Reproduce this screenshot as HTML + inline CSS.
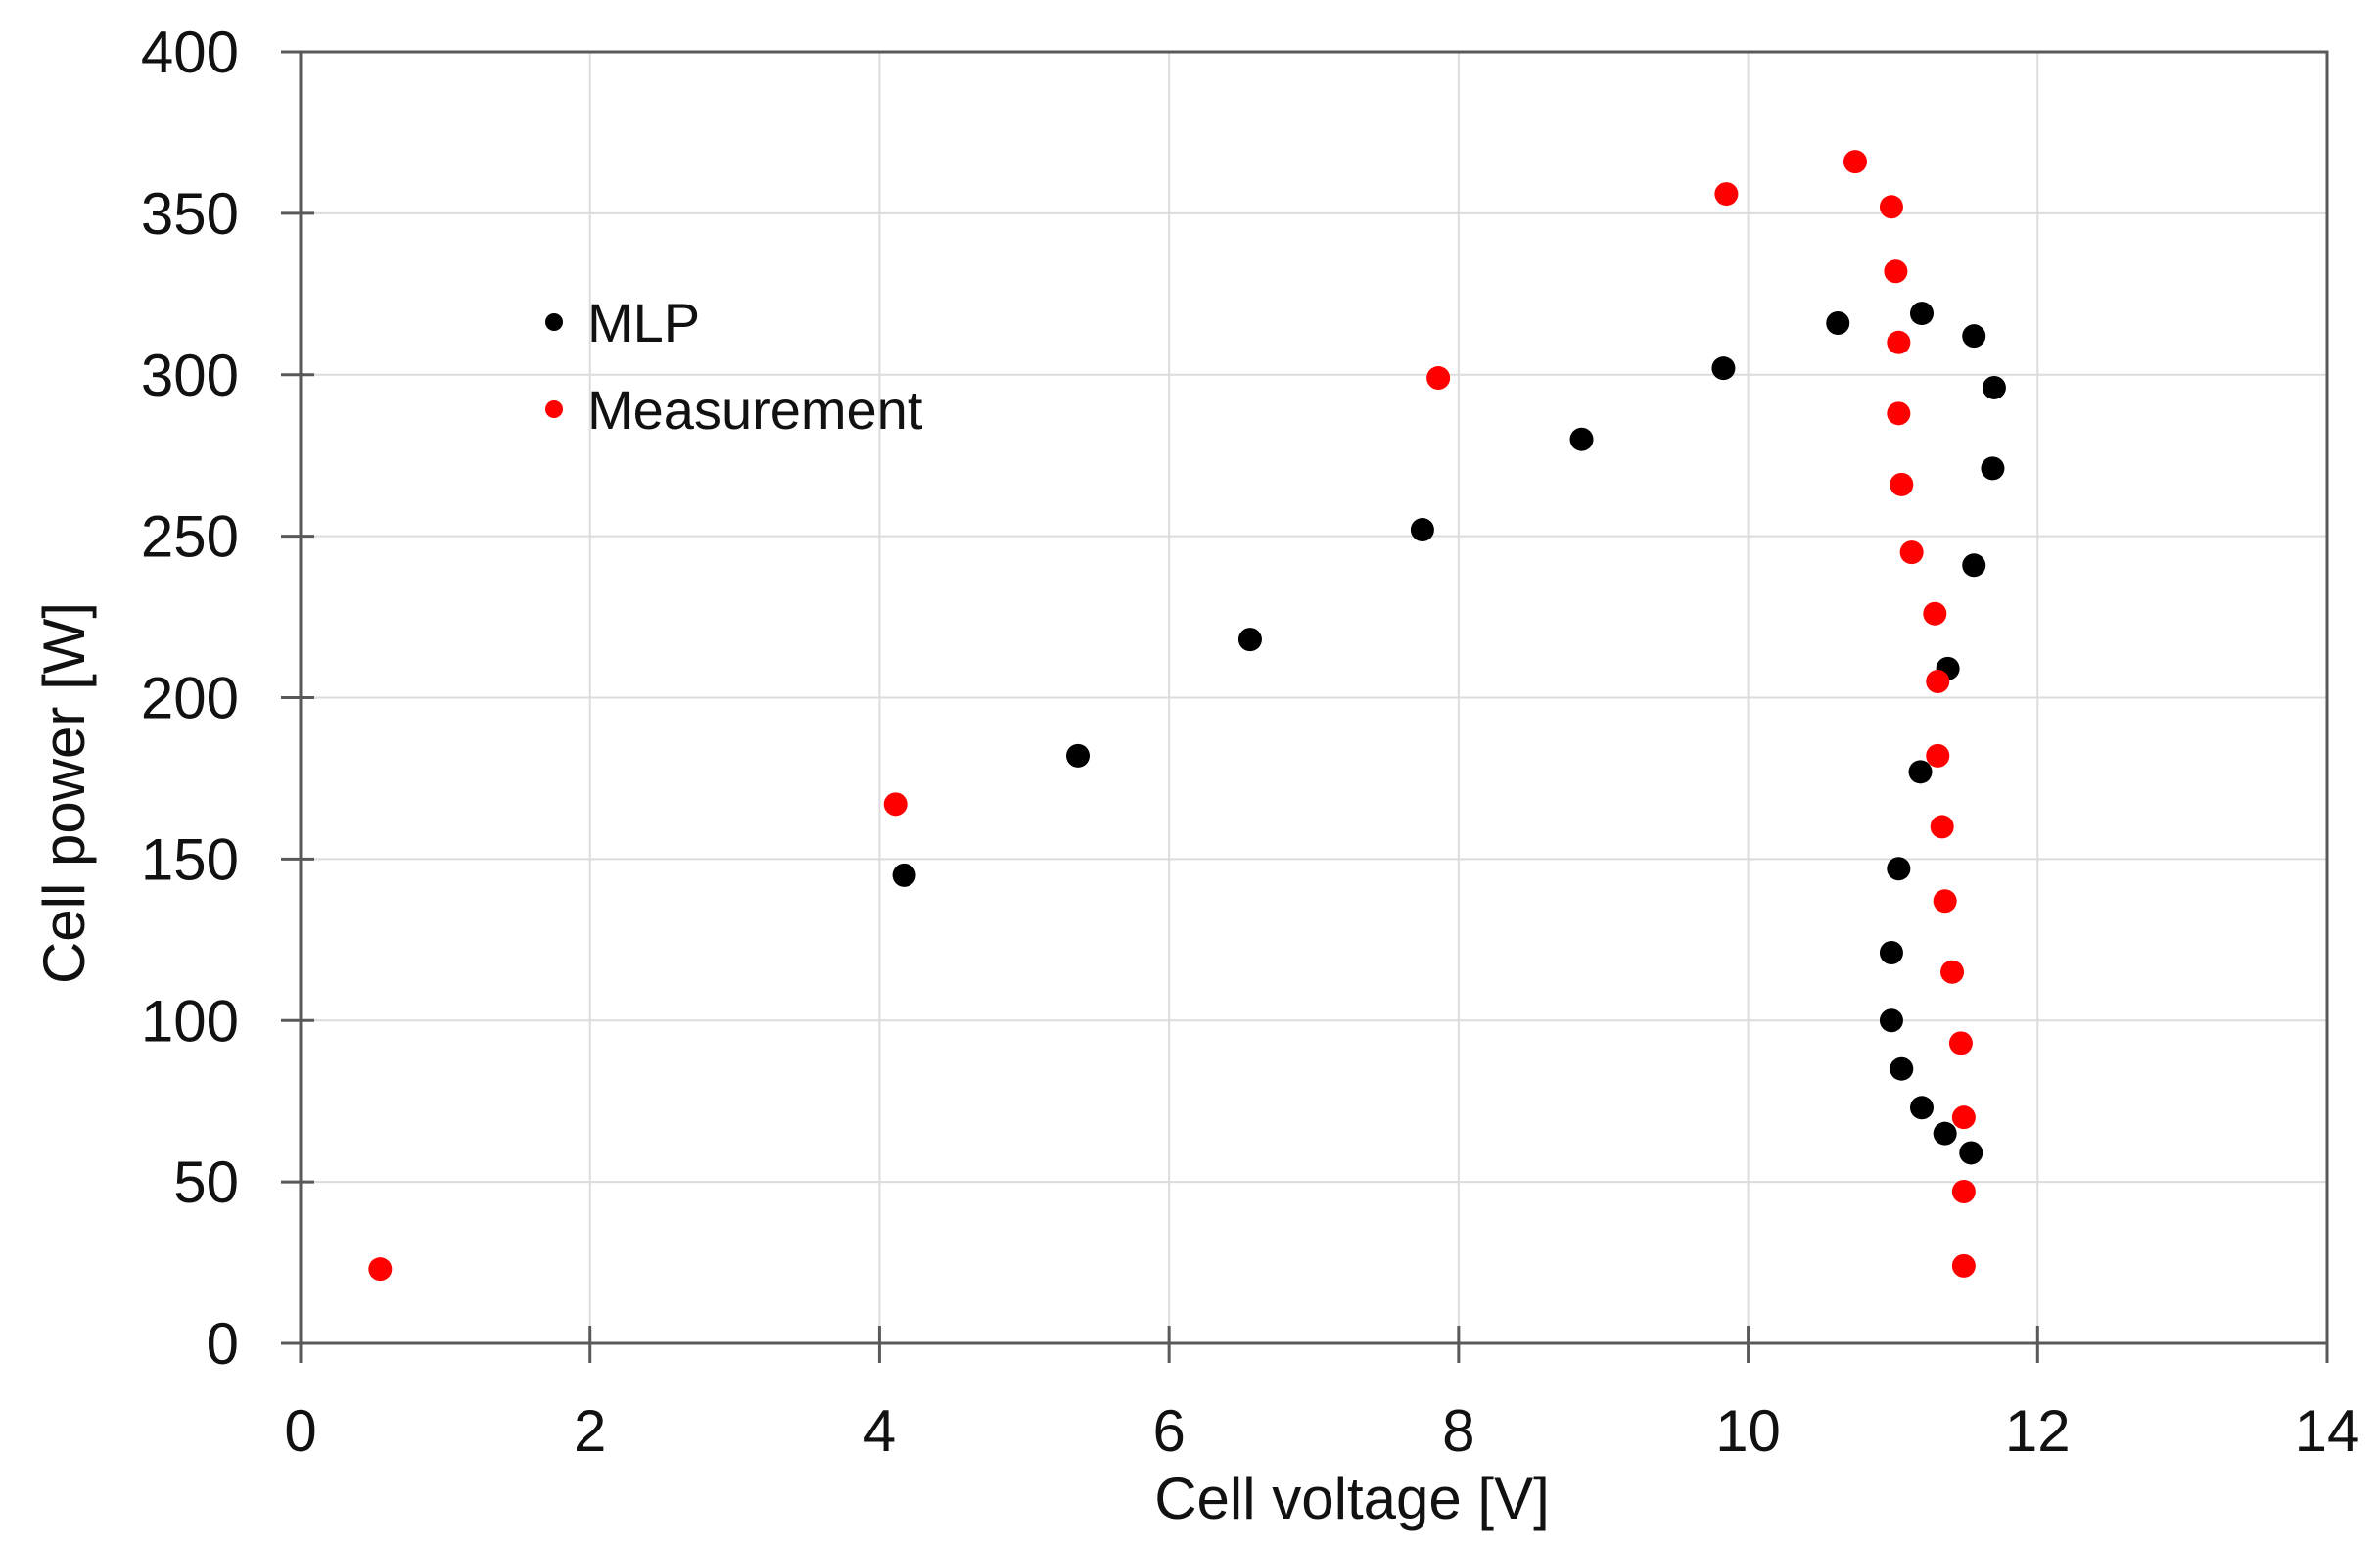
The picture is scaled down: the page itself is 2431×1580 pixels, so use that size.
<!DOCTYPE html>
<html><head><meta charset="utf-8"><style>
html,body{margin:0;padding:0;background:#fff;}
svg{display:block;font-family:"Liberation Sans",sans-serif;}
</style></head><body>
<svg id="chart" width="2431" height="1580" viewBox="0 0 2431 1580"></svg>
<script>
const xTicks=[0,2,4,6,8,10,12,14];
const yTicks=[0,50,100,150,200,250,300,350,400];
const mlpX=[4.17,5.37,6.56,7.75,8.85,9.83,10.62,11.2,11.56,11.7,11.69,11.56,11.38,11.19,11.04,10.99,10.99,11.06,11.2,11.36,11.54];
const mlpY=[145,182,218,252,280,302,316,319,312,296,271,241,209,177,147,121,100,85,73,65,59];
const measX=[0.55,4.11,7.86,9.85,10.74,10.99,11.02,11.04,11.04,11.06,11.13,11.29,11.31,11.31,11.34,11.36,11.41,11.47,11.49,11.49,11.49];
const measY=[23,167,299,356,366,352,332,310,288,266,245,226,205,182,160,137,115,93,70,47,24];

const svg=document.getElementById('chart');
const NS='http://www.w3.org/2000/svg';
const X0=307,X1=2377,Y0=1372,Y1=53;
const sx=v=>X0+(v-0)/(14-0)*(X1-X0);
const sy=v=>Y0-(v-0)/(400-0)*(Y0-Y1);
function mk(tag,attrs){const e=document.createElementNS(NS,tag);for(const k in attrs)e.setAttribute(k,attrs[k]);svg.appendChild(e);return e;}

xTicks.forEach(t=>{
  if(t>0&&t<14){const g=mk('line',{x1:sx(t),x2:sx(t),y1:Y1,y2:Y0,stroke:'#dcdcdc','stroke-width':2});
  
  }
  const tk=mk('line',{x1:sx(t),x2:sx(t),y1:Y0-18,y2:Y0+20,stroke:'#595959','stroke-width':3});
  
  
  const l=mk('text',{x:sx(t),y:Y0+110,'font-size':60,'text-anchor':'middle',fill:'#111'});
  l.textContent=t;
  
  
});
yTicks.forEach(t=>{
  if(t>0&&t<400){const g=mk('line',{x1:X0,x2:X1,y1:sy(t),y2:sy(t),stroke:'#dcdcdc','stroke-width':2});
  
  }
  const tk=mk('line',{x1:X0-20,x2:X0+14,y1:sy(t),y2:sy(t),stroke:'#595959','stroke-width':3});
  
  
  const l=mk('text',{x:244,y:sy(t)+21,'font-size':60,'text-anchor':'end',fill:'#111'});
  l.textContent=t;
  
  
});
const frame=mk('rect',{x:X0,y:Y1,width:X1-X0,height:Y0-Y1,fill:'none',stroke:'#595959','stroke-width':3});



mlpX.forEach((v,i)=>{
  const c=mk('circle',{cx:sx(v),cy:sy(mlpY[i]),r:12,fill:'#000'});
  
  
});
measX.forEach((v,i)=>{
  const c=mk('circle',{cx:sx(v),cy:sy(measY[i]),r:12,fill:'#ff0000'});
  
  
});

const lm=mk('circle',{cx:566,cy:329,r:9,fill:'#000'});


const lt=mk('text',{x:600,y:349,'font-size':56,fill:'#111'});lt.textContent='MLP';


const lm2=mk('circle',{cx:566,cy:418,r:9,fill:'#ff0000'});


const lt2=mk('text',{x:600,y:438,'font-size':56,fill:'#111'});lt2.textContent='Measurement';



const xt=mk('text',{x:1381,y:1551,'font-size':60,'text-anchor':'middle',fill:'#111'});xt.textContent='Cell voltage [V]';


const yt=mk('text',{x:0,y:0,'font-size':60,'text-anchor':'middle',fill:'#111',transform:'translate(86,810) rotate(-90)'});yt.textContent='Cell power [W]';


</script>
</body></html>
